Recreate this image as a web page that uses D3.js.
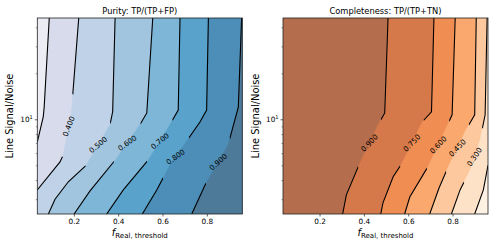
<!DOCTYPE html>
<html>
<head>
<meta charset="utf-8">
<script src="https://cdn.jsdelivr.net/npm/d3@7"></script>
<style>
body { margin: 0; background: #fff; }
text { font-family: "DejaVu Sans", sans-serif; fill: #000; }
</style>
</head>
<body>
<script>
// axes : f_Real,threshold (x) et Line S/N (y, log)
const fDomain = [0.035, 0.96];
const snDomain = [2.4, 46];
const xTicks = [0.2, 0.4, 0.6, 0.8];
const snMinor = [3, 4, 5, 6, 7, 8, 9, 20, 30, 40];

// Purity : niveaux et sommets des contours [f, S/N]
const purityLevels = [0.3, 0.4, 0.5, 0.6, 0.7, 0.8, 0.9];
const purityLines = [
  [[0.035, 7.1], [0.062, 10.4], [0.066, 12], [0.089, 46]],
  [[0.035, 3.45], [0.1375, 5.26], [0.152, 5.84], [0.189, 11.2], [0.222, 46]],
  [[0.085, 2.4], [0.115, 3.0], [0.175, 3.9], [0.255, 5.0], [0.363, 9.2], [0.375, 11.2], [0.386, 46]],
  [[0.201, 2.4], [0.273, 3.4], [0.393, 5.56], [0.498, 9.2], [0.529, 11], [0.556, 46]],
  [[0.348, 2.4], [0.423, 3.45], [0.536, 5.42], [0.633, 9.2], [0.671, 11.5], [0.679, 46]],
  [[0.509, 2.4], [0.574, 3.45], [0.634, 5.03], [0.769, 9.6], [0.799, 11.5], [0.807, 46]],
  [[0.732, 2.4], [0.792, 3.72], [0.896, 6.8], [0.942, 12], [0.957, 46]]
];
const purityColors = ['#ececf4', '#d8dbeb', '#bfd2e7', '#a2c5df', '#7eb6d7', '#58a2cb', '#4c8eb7', '#4e7a99'];
const purityLabelLevels = [0.4, 0.5, 0.6, 0.7, 0.8, 0.9];
const purityLabelSN = [9.0, 6.8, 7.0, 7.2, 5.67, 5.26];

// Completeness
const complLevels = [0.9, 0.75, 0.6, 0.45, 0.3, 0.15];
const complLines = [
  [[0.304, 2.4], [0.321, 3.2], [0.378, 5.03], [0.464, 9.2], [0.494, 11], [0.509, 46]],
  [[0.476, 2.4], [0.486, 2.84], [0.532, 4.21], [0.569, 5.08], [0.663, 9.6], [0.705, 11.2], [0.716, 46]],
  [[0.584, 2.4], [0.607, 3.1], [0.689, 4.9], [0.771, 8.77], [0.798, 10.7], [0.812, 46]],
  [[0.697, 2.4], [0.739, 3.55], [0.779, 4.83], [0.860, 8.5], [0.900, 10.7], [0.907, 46]],
  [[0.795, 2.4], [0.834, 3.45], [0.879, 4.66], [0.924, 7.3], [0.947, 10.7], [0.956, 46]],
  [[0.900, 2.4], [0.939, 3.45], [0.96, 5.0]]
];
const complColors = ['#b46e4d', '#d5794b', '#ef8d53', '#fba86e', '#fdc89e', '#fde2c8', '#fdf1e4'];
const complLabelLevels = [0.9, 0.75, 0.6, 0.45, 0.3];
const complLabelSN = [7.0, 7.0, 6.8, 6.5, 5.67];

const svg = d3.select('body').append('svg')
  .attr('width', 498)
  .attr('height', 249);

const haut = 18, bas = 214, largeur = 205;
// les étiquettes de matplotlib ont été calculées sur un axe moins haut
const ecrase = 2;

function panneau(id, x0, titre, niveaux, lignes, couleurs, labNiv, labSN) {
  const x = d3.scaleLinear().domain(fDomain).range([x0, x0 + largeur]);
  const y = d3.scaleLog().domain(snDomain).range([bas, haut]);
  const g = svg.append('g');

  g.append('clipPath').attr('id', 'clip' + id)
    .append('rect').attr('x', x0).attr('y', haut).attr('width', largeur).attr('height', bas - haut);

  // remplissage : couleur de base puis zones à droite de chaque contour
  const fonds = g.append('g').attr('clip-path', `url(#clip${id})`);
  fonds.append('rect').attr('x', x0).attr('y', haut).attr('width', largeur).attr('height', bas - haut)
    .attr('fill', couleurs[0]);
  lignes.forEach((l, i) => {
    const pts = l.map(d => [x(d[0]), y(d[1])]);
    const fin = l[l.length - 1], debut = l[0];
    if (fin[1] >= snDomain[1]) pts.push([x(fDomain[1]), y(snDomain[1])]);
    pts.push([x(fDomain[1]), y(snDomain[0])]);
    if (debut[0] <= fDomain[0]) pts.push([x(fDomain[0]), y(snDomain[0])]);
    fonds.append('path')
      .attr('d', 'M' + pts.join('L') + 'Z')
      .attr('fill', couleurs[i + 1])
      .attr('stroke', couleurs[i + 1])
      .attr('stroke-width', 0.4);
  });

  // étiquettes des contours
  const fs = 7.3;
  const etiq = labNiv.map((niv, k) => {
    const l = lignes[niveaux.indexOf(niv)].map(d => [x(d[0]), y(d[1])]);
    const py = y(labSN[k]);
    let px = l[0][0], ang = -90;
    for (let j = 0; j < l.length - 1; j++) {
      const a = l[j], b = l[j + 1];
      if (py <= a[1] && py >= b[1]) {
        const t = (py - a[1]) / (b[1] - a[1]);
        px = a[0] + t * (b[0] - a[0]);
        ang = Math.atan2((b[1] - a[1]) / ecrase, b[0] - a[0]) * 180 / Math.PI;
        break;
      }
    }
    if (ang < -90) ang += 180;
    if (ang > 90) ang -= 180;
    return { niv, px, py, ang };
  });

  const txt = g.append('g');
  etiq.forEach(e => {
    e.t = txt.append('text')
      .attr('transform', `translate(${e.px},${e.py}) rotate(${e.ang})`)
      .attr('text-anchor', 'middle')
      .attr('dy', '0.35em')
      .attr('font-size', fs)
      .text(d3.format('.3f')(e.niv));
    e.w = e.t.node().getComputedTextLength();
  });

  const masque = g.append('mask').attr('id', 'masque' + id)
    .attr('maskUnits', 'userSpaceOnUse').attr('x', 0).attr('y', 0).attr('width', 498).attr('height', 249);
  masque.append('rect').attr('width', 498).attr('height', 249).attr('fill', '#fff');
  etiq.forEach(e => {
    masque.append('rect')
      .attr('x', -e.w / 2 - 6).attr('y', -fs / 2)
      .attr('width', e.w + 12).attr('height', fs)
      .attr('transform', `translate(${e.px},${e.py}) scale(1,${ecrase}) rotate(${e.ang})`)
      .attr('fill', '#000');
  });

  const trace = d3.line().x(d => x(d[0])).y(d => y(d[1]));
  g.append('g').attr('mask', `url(#masque${id})`).attr('clip-path', `url(#clip${id})`)
    .selectAll('path').data(lignes).join('path')
    .attr('d', trace)
    .attr('fill', 'none')
    .attr('stroke', '#000')
    .attr('stroke-width', 1.1);
  txt.raise();

  // cadre
  g.append('rect').attr('x', x0).attr('y', haut).attr('width', largeur).attr('height', bas - haut)
    .attr('fill', 'none').attr('stroke', '#222').attr('stroke-width', 0.8);

  // axe x
  const ax = g.append('g').attr('transform', `translate(0,${bas})`)
    .call(d3.axisBottom(x).tickValues(xTicks).tickFormat(d3.format('.1f')).tickSize(2.5).tickPadding(2.5));
  ax.select('.domain').remove();
  ax.selectAll('text').attr('font-size', 7.3).attr('font-family', '"DejaVu Sans", sans-serif').attr('fill', '#000');
  ax.selectAll('line').attr('stroke', '#222').attr('stroke-width', 0.7);

  // axe y : mineures et 10^1
  const ay = g.append('g').attr('transform', `translate(${x0},0)`)
    .call(d3.axisLeft(y).tickValues(snMinor).tickFormat('').tickSize(1.5));
  ay.select('.domain').remove();
  ay.selectAll('line').attr('stroke', '#222').attr('stroke-width', 0.5);
  const ay2 = g.append('g').attr('transform', `translate(${x0},0)`)
    .call(d3.axisLeft(y).tickValues([10]).tickFormat('').tickSize(2.5));
  ay2.select('.domain').remove();
  ay2.selectAll('line').attr('stroke', '#222').attr('stroke-width', 0.7);
  const dix = g.append('text')
    .attr('x', x0 - 4.5).attr('y', y(10) + 2.6)
    .attr('text-anchor', 'end')
    .attr('font-size', 7.3);
  dix.append('tspan').text('10');
  dix.append('tspan').attr('dy', -3).attr('font-size', 5).text('1');

  // titres
  g.append('text')
    .attr('x', x0 + largeur / 2).attr('y', 14)
    .attr('text-anchor', 'middle')
    .attr('font-size', 8.3)
    .text(titre);
  g.append('text')
    .attr('transform', `translate(${x0 - 24},${(haut + bas) / 2}) rotate(-90)`)
    .attr('text-anchor', 'middle')
    .attr('font-size', 9.9)
    .text('Line Signal/Noise');
  const xl = g.append('text')
    .attr('x', x0 + largeur / 2).attr('y', 236)
    .attr('text-anchor', 'middle');
  xl.append('tspan').attr('font-style', 'italic').attr('font-size', 10).text('f');
  xl.append('tspan').attr('font-size', 7).attr('dy', 1.5).text('Real, threshold');
}

panneau('p', 37.3, 'Purity: TP/(TP+FP)', purityLevels, purityLines, purityColors, purityLabelLevels, purityLabelSN);
panneau('c', 283, 'Completeness: TP/(TP+TN)', complLevels, complLines, complColors, complLabelLevels, complLabelSN);
</script>
</body>
</html>
